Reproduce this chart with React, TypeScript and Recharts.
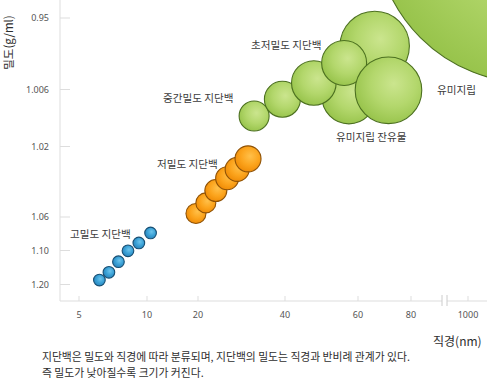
import React from 'react';
import { ScatterChart, Scatter, XAxis, YAxis, ZAxis } from 'recharts';

// ---- axis ticks (schematic, non-uniform axes) ----
const xTickValues = [5, 10, 20, 40, 60, 80, 1000];
const xTickText = ['5', '10', '20', '40', '60', '80', '1000'];
const xTickStops = [19, 87, 138, 225, 298, 351, 408];

const yTickValues = [0.95, 1.006, 1.02, 1.06, 1.1, 1.2];
const yTickText = ['0.95', '1.006', '1.02', '1.06', '1.10', '1.20'];
const yTickStops = [18, 89.5, 146.5, 217, 250.5, 284.5];

// ---- data: diameter (nm), density (g/ml), bubble size ----
const hdlDiameter = [6.5, 7.2, 7.9, 8.6, 9.4, 10.7];
const hdlDensity = [1.187, 1.164, 1.133, 1.101, 1.091, 1.079];
const hdlSize = [34, 34, 34, 34, 34, 34];

const ldlDiameter = [19.6, 21.8, 24.1, 26.7, 29.0, 31.5];
const ldlDensity = [1.058, 1.052, 1.045, 1.038, 1.033, 1.027];
const ldlSize = [100, 100, 121, 132, 144, 169];

const greenClass = ['유미지립', '초저밀도 지단백', '유미지립 잔유물', '중간밀도 지단백', '초저밀도 지단백', '초저밀도 지단백', '초저밀도 지단백', '유미지립 잔유물'];
const greenDiameter = [2000, 66.3, 57.5, 32.9, 39.4, 47.9, 56.2, 71.5];
const greenDensity = [0.8795, 0.9719, 1.0078, 1.0125, 1.0084, 1.0009, 0.9852, 1.0062];
const greenSize = [24025, 1204, 729, 225, 324, 497, 506, 1109];

const maxSize = 24025;

function toAxis(v: number, values: number[], stops: number[]) {
  let i = 0;
  while (i < values.length - 2 && v > values[i + 1]) i++;
  const t = (v - values[i]) / (values[i + 1] - values[i]);
  return stops[i] + t * (stops[i + 1] - stops[i]);
}

function build(d: number[], rho: number[], s: number[], cls?: string[]) {
  return d.map((v, i) => ({
    name: cls ? cls[i] : '',
    diameter: v,
    density: rho[i],
    x: toAxis(v, xTickValues, xTickStops),
    y: toAxis(rho[i], yTickValues, yTickStops),
    z: s[i],
  }));
}

const hdlData = build(hdlDiameter, hdlDensity, hdlSize);
const ldlData = build(ldlDiameter, ldlDensity, ldlSize);
const greenData = build(greenDiameter, greenDensity, greenSize, greenClass);

let gid = 0;
function makeShape(light: string, mid: string, dark: string, stroke: string) {
  return (props: any) => {
    const { cx, cy } = props;
    const r = props.width ? props.width / 2 : Math.sqrt((props.size || 0) / Math.PI);
    const id = `g${gid++}`;
    return (
      <g>
        <defs>
          <radialGradient id={id} cx="0.58" cy="0.4" r="0.62">
            <stop offset="0%" stopColor={light} />
            <stop offset="55%" stopColor={mid} />
            <stop offset="100%" stopColor={dark} />
          </radialGradient>
        </defs>
        <circle cx={cx} cy={cy} r={r} fill={`url(#${id})`} stroke={stroke} strokeWidth={1.1} />
      </g>
    );
  };
}

const blueShape = makeShape('#6cc4ec', '#3aa0d5', '#2884bc', '#174e72');
const orangeShape = makeShape('#ffc04a', '#fca51e', '#f08c06', '#8f5206');
const greenShape = makeShape('#cbe58e', '#b3d76c', '#98c44c', '#4c7020');

const tickStyle = { fill: '#555', fontSize: 9, fontFamily: '"Noto Sans", sans-serif' };
const kfont = '"Noto Sans CJK KR", sans-serif';

export default function App() {
  return (
    <div style={{ position: 'absolute', left: 0, top: 0, width: 487, height: 383, background: '#fff' }}>
      <ScatterChart width={487} height={383} margin={{ top: 0, right: 0, bottom: 0, left: 0 }}>
        <XAxis
          type="number"
          dataKey="x"
          domain={[0, 427]}
          allowDataOverflow
          ticks={xTickStops}
          interval={0}
          tickFormatter={(v: number) => xTickText[xTickStops.indexOf(v)]}
          height={82}
          axisLine={{ stroke: '#dddddd' }}
          tickLine={{ stroke: '#dddddd' }}
          tickSize={-5}
          tickMargin={16}
          tick={tickStyle}
        />
        <YAxis
          type="number"
          dataKey="y"
          domain={[0, 301]}
          reversed
          allowDataOverflow
          ticks={yTickStops}
          interval={0}
          tickFormatter={(v: number) => yTickText[yTickStops.indexOf(v)]}
          width={60}
          axisLine={{ stroke: '#dddddd' }}
          tickLine={{ stroke: '#dddddd' }}
          tickSize={-10}
          tickMargin={21}
          tick={tickStyle}
        />
        <ZAxis type="number" dataKey="z" domain={[0, maxSize]} range={[0, maxSize * Math.PI]} />
        <Scatter name="고밀도 지단백" data={hdlData} shape={blueShape} isAnimationActive={false} />
        <Scatter name="저밀도 지단백" data={ldlData} shape={orangeShape} isAnimationActive={false} />
        <Scatter name="지단백" data={greenData} shape={greenShape} isAnimationActive={false} />
      </ScatterChart>
      <svg width={487} height={383} style={{ position: 'absolute', left: 0, top: 0, pointerEvents: 'none' }}>
        <rect x={442} y={299} width={5} height={4} fill="#fff" />
        <line x1={442} y1={295} x2={442} y2={306} stroke="#cccccc" />
        <line x1={447} y1={295} x2={447} y2={306} stroke="#cccccc" />
        <g fontFamily={kfont} fill="#3c3c3c" fontSize={10.6}>
          <text x={70} y={238}>고밀도 지단백</text>
          <text x={157} y={168}>저밀도 지단백</text>
          <text x={163} y={101.5}>중간밀도 지단백</text>
          <text x={251} y={49}>초저밀도 지단백</text>
          <text x={336} y={141}>유미지립 잔유물</text>
          <text x={437} y={94}>유미지립</text>
        </g>
        <text x={12.5} y={42.5} transform="rotate(-90 12.5 42.5)" textAnchor="middle" fontFamily={kfont} fontSize={11.5} fill="#2e2e2e">밀도(g/ml)</text>
        <text x={433} y={346} fontFamily={kfont} fontSize={12} fill="#2e2e2e">직경(nm)</text>
        <g fontFamily={kfont} fontSize={10.8} fill="#2e2e2e">
          <text x={42} y={361}>지단백은 밀도와 직경에 따라 분류되며, 지단백의 밀도는 직경과 반비례 관계가 있다.</text>
          <text x={42} y={376.5}>즉 밀도가 낮아질수록 크기가 커진다.</text>
        </g>
      </svg>
    </div>
  );
}
